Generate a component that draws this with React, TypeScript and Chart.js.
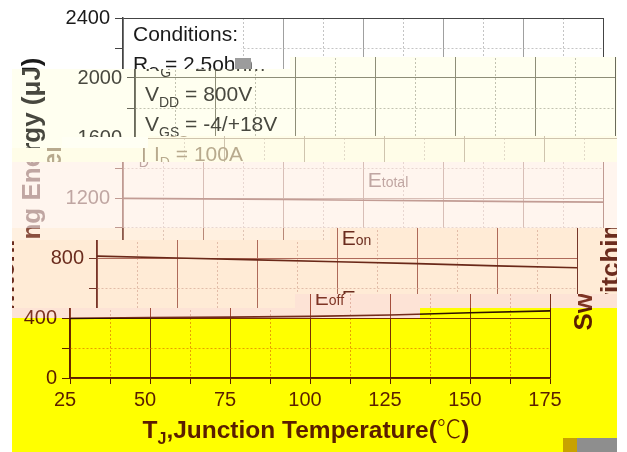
import React, { useEffect, useRef } from 'react';
import { Chart, registerables } from 'chart.js';

Chart.register(...registerables);

// Junction temperature (°C) and switching energies (µJ)
const junctionTemps = [25, 50, 75, 100, 125, 150, 175];
const eTotal = [1198, 1194, 1190, 1185, 1181, 1176, 1172];
const eOn = [812, 800, 788, 775, 762, 748, 735];
const eOff = [398, 402, 406, 411, 420, 435, 448];

const tempTickLabels = ['25', '50', '75', '100', '125', '150', '175'];
const energyTickLabels = ['0', '400', '800', '1200', '1600', '2000', '2400'];

const conditionMains = ['Conditions:', 'R', 'V', 'V', 'I'];
const conditionSubs = ['', 'G', 'DD', 'GS', 'D'];
const conditionRests = ['', ' = 2.5ohm', ' = 800V', ' = -4/+18V', ' = 100A'];

const SANS = '"Liberation Sans", Arial, "DejaVu Sans", sans-serif';
const CJK = '"Noto Sans CJK SC", "DejaVu Sans", sans-serif';

const IMG_W = 605;
const IMG_H = 452;

type Palette = {
  bg: string; text: string; axis: string; major: string; minor: string; line: string; panel?: boolean;
};
type Band = { topL: number; topR: number; split: number; offset: number; wrap: boolean; p: Palette };

const PAL_B: Palette = { bg: '#fffff0', text: '#48483f', axis: '#6a6a5c', major: '#8e8e78', minor: '#c2c2b0', line: '#505046' };

// horizontal strips of the figure, each with its own shift and colouring
const BANDS: Band[] = [
  { topL: 0, topR: 0, split: 12, offset: 0, wrap: false,
    p: { bg: '#ffffff', text: '#1a1a1a', axis: '#444444', major: '#a0a0a0', minor: '#c4c4c4', line: '#222222', panel: true } },
  { topL: 69, topR: 57, split: 290, offset: 12, wrap: false, p: PAL_B },
  { topL: 69, topR: IMG_H, split: 62, offset: 0, wrap: false, p: PAL_B },
  { topL: 148, topR: 136, split: 148, offset: 21, wrap: false,
    p: { bg: '#fffde8', text: '#b8aa8e', axis: '#b4a48a', major: '#cfc4ae', minor: '#e2dac8', line: '#b0a088' } },
  { topL: 162, topR: 162, split: 12, offset: 0, wrap: false,
    p: { bg: '#fff5ee', text: '#c0a6a2', axis: '#c09a92', major: '#d8beb6', minor: '#e8d6d0', line: '#c29c94' } },
  { topL: 228, topR: IMG_H, split: 330, offset: 0, wrap: false,
    p: { bg: '#fff0e0', text: '#8a5040', axis: '#8a5a4c', major: '#b88878', minor: '#e0c4b4', line: '#7a4030' } },
  { topL: 240, topR: 228, split: 330, offset: -26, wrap: true,
    p: { bg: '#ffebd6', text: '#6b2c1e', axis: '#76362a', major: '#ae6a5a', minor: '#e2bca8', line: '#6a2818' } },
  { topL: 308, topR: 294, split: 295, offset: -53, wrap: true,
    p: { bg: '#fde3d6', text: '#7e3424', axis: '#7a2e1e', major: '#a44e3c', minor: '#e2b2a2', line: '#742a1a' } },
  { topL: 318, topR: 308, split: 420, offset: -53, wrap: true,
    p: { bg: '#ffff00', text: '#5a1e00', axis: '#5a1e00', major: '#7a3200', minor: '#e8a000', line: '#2e1000' } },
];

type Run = { text: string; font: string; dy?: number };

function drawRuns(ctx: CanvasRenderingContext2D, runs: Run[], x: number, y: number, center: boolean) {
  const widths = runs.map((r) => {
    ctx.font = r.font;
    return ctx.measureText(r.text).width;
  });
  let cx = center ? x - widths.reduce((a, b) => a + b, 0) / 2 : x;
  runs.forEach((r, i) => {
    ctx.font = r.font;
    ctx.fillText(r.text, cx, y + (r.dy || 0));
    cx += widths[i];
  });
}

function withMinors(majors: number[]) {
  const out: { value: number }[] = [];
  majors.forEach((v, i) => {
    out.push({ value: v });
    if (i < majors.length - 1) out.push({ value: (v + majors[i + 1]) / 2 });
  });
  return out;
}

function annotationPlugin(p: Palette) {
  return {
    id: 'annotations',
    beforeDatasetsDraw(chart: any) {
      if (!p.panel) return;
      // blank panel behind the conditions text
      const { ctx, chartArea: area, scales } = chart;
      const right = scales.x.getPixelForValue(62);
      ctx.save();
      ctx.fillStyle = p.bg;
      ctx.fillRect(area.left + 1, area.top + 1, right - area.left - 1, 60);
      ctx.restore();
    },
    afterDraw(chart: any) {
      const { ctx, chartArea: area, scales } = chart;
      const xs = scales.x;
      const ys = scales.y;
      ctx.save();
      ctx.fillStyle = p.text;
      ctx.textAlign = 'left';
      ctx.textBaseline = 'alphabetic';

      // test conditions block
      conditionMains.forEach((m, i) => {
        drawRuns(
          ctx,
          [
            { text: m, font: `21px ${SANS}` },
            { text: conditionSubs[i], font: `14px ${SANS}`, dy: 6 },
            { text: conditionRests[i], font: `21px ${SANS}` },
          ],
          area.left + 10,
          area.top + 23 + i * 30,
          false
        );
      });

      // curve names
      const curveLabel = (sub: string, t: number, e: number) =>
        drawRuns(
          ctx,
          [
            { text: 'E', font: `21px ${SANS}` },
            { text: sub, font: `14px ${SANS}` },
          ],
          xs.getPixelForValue(t),
          ys.getPixelForValue(e),
          false
        );
      curveLabel('total', 101.5, 1273);
      curveLabel('on', 101.5, 887);
      curveLabel('off', 101.5, 487);

      // x axis title
      drawRuns(
        ctx,
        [
          { text: 'T', font: `bold 24.5px ${SANS}` },
          { text: 'J', font: `bold 16px ${SANS}`, dy: 6 },
          { text: ',Junction Temperature(', font: `bold 24.5px ${SANS}` },
          { text: '\u2103', font: `300 24.5px ${CJK}` },
          { text: ')', font: `bold 24.5px ${SANS}` },
        ],
        (area.left + area.right) / 2 - 4,
        area.bottom + 60,
        true
      );

      // y axis title
      ctx.translate(28, (area.top + area.bottom) / 2 - 4);
      ctx.rotate(-Math.PI / 2);
      drawRuns(ctx, [{ text: 'Switching Energy (\u03bcJ)', font: `bold 26px ${SANS}` }], 0, 0, true);
      ctx.restore();
    },
  };
}

function buildConfig(p: Palette): any {
  const xMajor = tempTickLabels.map(Number);
  const yMajor = energyTickLabels.map(Number);
  const xMax = xMajor[xMajor.length - 1];
  const yMax = yMajor[yMajor.length - 1];

  const gridColor = (majors: number[], max: number) => (c: any) => {
    const v = c.tick ? c.tick.value : undefined;
    if (v === undefined) return p.major;
    if (v === max) return p.axis;
    return majors.includes(v) ? p.major : p.minor;
  };
  const gridDash = (majors: number[]) => (c: any) =>
    c.tick && !majors.includes(c.tick.value) ? [2, 2] : [];

  const series = [eTotal, eOn, eOff].map((vals) => ({
    data: junctionTemps.map((t, i) => ({ x: t, y: vals[i] })),
    borderColor: p.line,
    borderWidth: 1.7,
    pointRadius: 0,
    fill: false,
    tension: 0,
  }));

  return {
    type: 'line',
    data: { datasets: series },
    options: {
      animation: false,
      responsive: false,
      devicePixelRatio: 1,
      events: [],
      layout: { padding: { top: 18, right: 14, bottom: 0, left: 0 } },
      plugins: { legend: { display: false }, tooltip: { enabled: false } },
      scales: {
        x: {
          type: 'linear',
          min: xMajor[0],
          max: xMax,
          afterBuildTicks: (s: any) => {
            s.ticks = withMinors(xMajor);
          },
          afterFit: (s: any) => {
            s.height = 74;
            s.paddingLeft = 0;
            s.paddingRight = 0;
          },
          ticks: {
            autoSkip: false,
            maxRotation: 0,
            padding: 4,
            labelOffset: -5,
            color: p.text,
            font: { family: SANS, size: 20 },
            callback: (v: number) => {
              const i = xMajor.indexOf(v);
              return i >= 0 ? tempTickLabels[i] : '';
            },
          },
          grid: { color: gridColor(xMajor, xMax), lineWidth: 1, tickLength: 6, tickColor: p.axis, tickWidth: 1 },
          border: { color: p.axis, width: 1.5, dash: gridDash(xMajor) },
        },
        y: {
          type: 'linear',
          min: yMajor[0],
          max: yMax,
          afterBuildTicks: (s: any) => {
            s.ticks = withMinors(yMajor);
          },
          afterFit: (s: any) => {
            s.width = 111;
            s.paddingTop = 0;
            s.paddingBottom = 0;
          },
          ticks: {
            autoSkip: false,
            padding: 5,
            color: p.text,
            font: { family: SANS, size: 20 },
            callback: (v: number) => {
              const i = yMajor.indexOf(v);
              return i >= 0 ? energyTickLabels[i] : '';
            },
          },
          grid: { color: gridColor(yMajor, yMax), lineWidth: 1, tickLength: 8, tickColor: p.axis, tickWidth: 1 },
          border: { color: p.axis, width: 1.5, dash: gridDash(yMajor) },
        },
      },
    },
    plugins: [annotationPlugin(p)],
  };
}

function ChartLayer({ p, left }: { p: Palette; left: number }) {
  const ref = useRef<HTMLCanvasElement>(null);
  useEffect(() => {
    if (!ref.current) return;
    const chart = new Chart(ref.current, buildConfig(p));
    return () => chart.destroy();
  }, [p]);
  return (
    <canvas
      ref={ref}
      width={IMG_W}
      height={IMG_H}
      style={{ position: 'absolute', left, top: 0, width: IMG_W, height: IMG_H }}
    />
  );
}

function Strip({ band }: { band: Band }) {
  const s = band.split - 12;
  const clip = `polygon(0px ${band.topL}px, ${s}px ${band.topL}px, ${s}px ${band.topR}px, ${IMG_W}px ${band.topR}px, ${IMG_W}px ${IMG_H}px, 0px ${IMG_H}px)`;
  return (
    <div
      style={{
        position: 'absolute',
        left: 12,
        top: 0,
        width: IMG_W,
        height: IMG_H,
        overflow: 'hidden',
        background: band.p.bg,
        clipPath: clip,
      }}
    >
      <ChartLayer p={band.p} left={band.offset} />
      {band.wrap && <ChartLayer p={band.p} left={band.offset + IMG_W} />}
    </div>
  );
}

export default function App() {
  return (
    <div
      style={{
        position: 'fixed',
        left: 0,
        top: 0,
        width: 627,
        height: 452,
        background: '#ffffff',
        overflow: 'hidden',
      }}
    >
      {BANDS.map((b, i) => (
        <Strip key={i} band={b} />
      ))}
      <div style={{ position: 'absolute', left: 62, top: 137, width: 86, height: 11, background: '#fffff4' }} />
      <div style={{ position: 'absolute', left: 235, top: 58, width: 16, height: 11, background: '#9c9c9c' }} />
      <div style={{ position: 'absolute', left: 563, top: 438, width: 14, height: 14, background: '#c8a200' }} />
      <div style={{ position: 'absolute', left: 577, top: 438, width: 40, height: 14, background: '#8e8e8e' }} />
    </div>
  );
}
